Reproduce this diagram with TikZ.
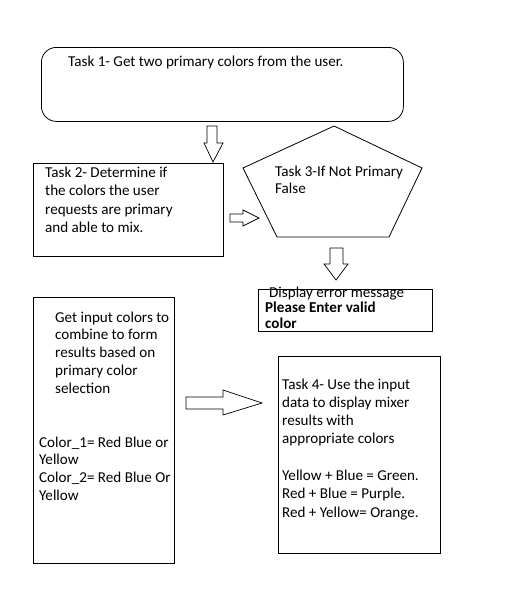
\documentclass[tikz,border=0pt]{standalone}
\usepackage{fontspec}
\setmainfont{Carlito}
\begin{document}
\begin{tikzpicture}[x=1pt,y=-1pt,
  box/.style={draw=black,line width=0.8pt,inner sep=0pt,anchor=north west},
  blockarrow/.style={draw=black,line width=0.7pt,fill=white,line join=miter},
  txt/.style={anchor=base west,inner sep=0pt,align=left,
    font=\fontsize{15.1}{18}\selectfont},
  every node/.style={text=black}]
\useasboundingbox[fill=white] (0,0) rectangle (509,597);
% boxes
\node[box,rounded corners=15pt,minimum width=362pt,minimum height=74pt] (t1) at (41,47) {};
\node[box,minimum width=190pt,minimum height=93pt] (t2) at (33,163) {};
\node[box,minimum width=174pt,minimum height=42pt] (err) at (258,289) {};
\node[box,minimum width=141pt,minimum height=266pt] (inp) at (33,297) {};
\node[box,minimum width=162pt,minimum height=197pt] (t4) at (278,356) {};
% pentagon
\coordinate (p1) at (334,126);
\coordinate (p2) at (422,168);
\coordinate (p3) at (389,237);
\coordinate (p4) at (277,237);
\coordinate (p5) at (243,168);
\draw[line width=0.8pt,line join=miter] (p1) -- (p2) -- (p3) -- (p4) -- (p5) -- cycle;
% block arrows
\draw[blockarrow] (207,126) -- (217,126) -- (217,143) -- (223,143) -- (213,162) -- (204,143) -- (207,143) -- cycle;
\draw[blockarrow] (230,214) -- (243,214) -- (243,210) -- (259,218) -- (243,226) -- (243,222) -- (230,222) -- cycle;
\draw[blockarrow] (330,248) -- (343,248) -- (343,264) -- (348,264) -- (336,280) -- (324,264) -- (330,264) -- cycle;
\draw[blockarrow] (186,397) -- (223,397) -- (223,390) -- (262,403) -- (223,415) -- (223,409) -- (186,409) -- cycle;
% texts (anchor = baseline of last line)
\node[txt] (t1txt) at (68,66) {Task 1- Get two primary colors from the user.};
\node[txt,font=\fontsize{15.1}{18.5}\selectfont] (t2txt) at (45,232.5) {Task 2- Determine if\\the colors the user\\requests are primary\\and able to mix.};
\node[txt,font=\fontsize{15.1}{17}\selectfont] (t3txt) at (275,193) {Task 3-If Not Primary\\False};
\node[txt] (errtxt) at (269,297.5) {Display error message};
\node[txt,font=\bfseries\fontsize{15.1}{16}\selectfont] (errtxt2) at (265,328) {Please Enter valid\\color};
\node[txt,font=\fontsize{15.1}{17.9}\selectfont] (inptxt) at (55,393.6) {Get input colors to\\combine to form\\results based on\\primary color\\selection};
\node[txt,font=\fontsize{15.1}{17.8}\selectfont] (inptxt2) at (39,500.4) {Color\_1= Red Blue or\\Yellow\\Color\_2= Red Blue Or\\Yellow};
\node[txt] (t4txt) at (282,443) {Task 4- Use the input\\data to display mixer\\results with\\appropriate colors};
\node[txt,font=\fontsize{15.1}{18.5}\selectfont] (t4txt2) at (282,517) {Yellow + Blue = Green.\\Red + Blue = Purple.\\Red + Yellow= Orange.};
\end{tikzpicture}
\end{document}
